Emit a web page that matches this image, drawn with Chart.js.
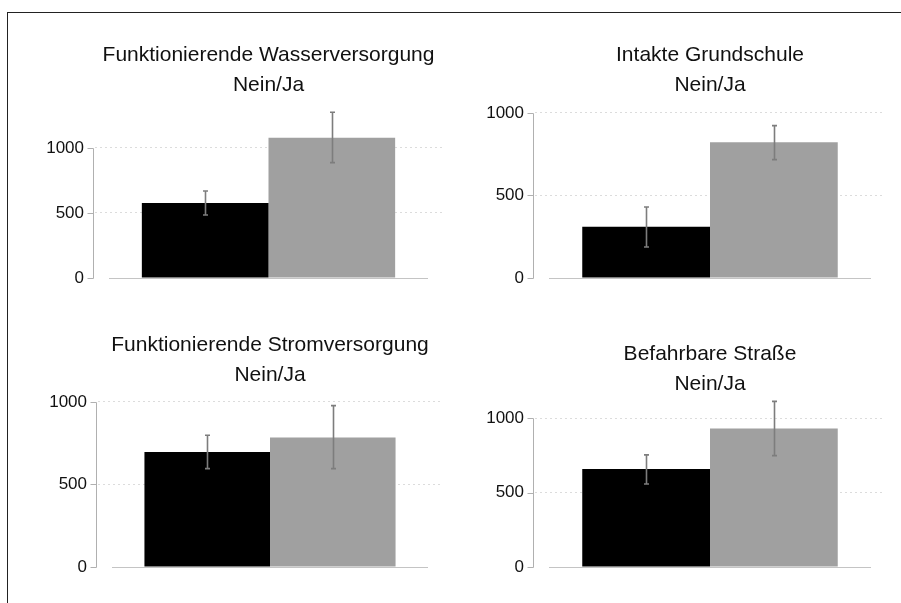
<!DOCTYPE html>
<html lang="de">
<head>
<meta charset="utf-8">
<title>Nein/Ja</title>
<script src="https://cdn.jsdelivr.net/npm/chart.js@4.4.1/dist/chart.umd.min.js"></script>
<style>
  html, body { margin: 0; padding: 0; background: #fff; }
  #stage { position: relative; width: 901px; height: 603px; overflow: hidden; background: #fff; }
  #frame { position: absolute; left: 7px; top: 12px; width: 1000px; height: 1000px;
           border-left: 1px solid #222; border-top: 1px solid #222; }
  canvas { position: absolute; }
</style>
</head>
<body>
<div id="stage">
  <div id="frame"></div>
  <canvas id="c0"></canvas>
  <canvas id="c1"></canvas>
  <canvas id="c2"></canvas>
  <canvas id="c3"></canvas>
</div>
<script>
// Panel titles and the shared subtitle
const panelTitles = [
  'Funktionierende Wasserversorgung',
  'Intakte Grundschule',
  'Funktionierende Stromversorgung',
  'Befahrbare Straße'
];
const subtitle = 'Nein/Ja';
const seriesNames = ['Nein', 'Ja'];

// Means per panel
const neinValues = [577, 311, 697, 659];
const jaValues   = [1079, 822, 785, 931];

// Error bar ends per panel
const neinLow  = [485, 188, 596, 558];
const neinHigh = [669, 430, 798, 754];
const jaLow    = [887, 717, 596, 749];
const jaHigh   = [1275, 923, 978, 1114];

// Value axis
const yTicks = [0, 500, 1000];
const yMax   = [1362, 1073, 1067, 1124];

// Canvas placement of each panel: [left, top, width, height]
const panelBoxes = [
  [42, 20, 420, 282],
  [482, 20, 423, 282],
  [45, 310, 417, 281],
  [482, 319, 423, 272]
];

const FONT = "'Liberation Sans', Arial, Helvetica, sans-serif";
const Y_AXIS_WIDTH = 53;

// Axis lines, baseline and error bars in the style of classic base graphics
const baseAxesPlugin = {
  id: 'baseAxes',
  afterDatasetsDraw(chart, args, opts) {
    const i = opts.panel;
    const { ctx, chartArea } = chart;
    const y = chart.scales.y;
    const lows = [neinLow[i], jaLow[i]];
    const highs = [neinHigh[i], jaHigh[i]];
    ctx.save();

    // error bars
    ctx.strokeStyle = '#7d7d7d';
    ctx.lineWidth = 1.6;
    chart.data.datasets.forEach((ds, d) => {
      const bar = chart.getDatasetMeta(d).data[0];
      const x = Math.round(bar.x) + 0.5;
      const y1 = y.getPixelForValue(lows[d]);
      const y2 = y.getPixelForValue(highs[d]);
      ctx.beginPath();
      ctx.moveTo(x, y1); ctx.lineTo(x, y2);
      ctx.moveTo(x - 2.5, y1); ctx.lineTo(x + 2.5, y1);
      ctx.moveTo(x - 2.5, y2); ctx.lineTo(x + 2.5, y2);
      ctx.stroke();
    });

    // baseline under the bars
    const y0 = Math.round(y.getPixelForValue(0)) + 0.5;
    ctx.lineWidth = 1;
    ctx.strokeStyle = '#c4c4c4';
    ctx.beginPath();
    ctx.moveTo(chartArea.left + 14, y0);
    ctx.lineTo(chartArea.right - 14, y0);
    ctx.stroke();

    // value axis line with tick marks
    const ax = Math.round(chartArea.left - 2) + 0.5;
    const yTop = Math.round(y.getPixelForValue(yTicks[yTicks.length - 1])) + 0.5;
    ctx.strokeStyle = '#b0b0b0';
    ctx.beginPath();
    ctx.moveTo(ax, y0);
    ctx.lineTo(ax, yTop);
    yTicks.forEach(v => {
      const ty = Math.round(y.getPixelForValue(v)) + 0.5;
      ctx.moveTo(ax - 6, ty);
      ctx.lineTo(ax, ty);
    });
    ctx.stroke();
    ctx.restore();
  }
};

panelTitles.forEach((title, i) => {
  const canvas = document.getElementById('c' + i);
  const [left, top, w, h] = panelBoxes[i];
  canvas.width = w;
  canvas.height = h;
  canvas.style.left = left + 'px';
  canvas.style.top = top + 'px';
  canvas.style.width = w + 'px';
  canvas.style.height = h + 'px';

  new Chart(canvas, {
    type: 'bar',
    data: {
      labels: [subtitle],
      datasets: [
        { label: seriesNames[0], data: [neinValues[i]], backgroundColor: '#000000' },
        { label: seriesNames[1], data: [jaValues[i]], backgroundColor: '#a0a0a0' }
      ]
    },
    options: {
      responsive: false,
      animation: false,
      devicePixelRatio: 1,
      layout: { padding: { top: 0, left: 0, right: 20, bottom: 24 } },
      datasets: { bar: { categoryPercentage: 0.73, barPercentage: 1, borderWidth: 0 } },
      plugins: {
        legend: { display: false },
        tooltip: { enabled: false },
        title: {
          display: true,
          fullSize: false,
          text: [title, subtitle],
          color: '#111',
          font: { family: FONT, size: 21, weight: 'normal', lineHeight: 1.45 },
          padding: { top: 20, bottom: 0 }
        },
        baseAxes: { panel: i }
      },
      scales: {
        x: { display: false },
        y: {
          min: 0,
          max: yMax[i],
          afterFit(scale) { scale.width = Y_AXIS_WIDTH; },
          afterBuildTicks(scale) { scale.ticks = yTicks.map(v => ({ value: v })); },
          ticks: {
            padding: 11,
            color: '#111',
            font: { family: FONT, size: 17 },
            callback: v => String(v)
          },
          grid: {
            drawTicks: false,
            lineWidth: 1,
            color: ctx => (ctx.tick && ctx.tick.value === 0) ? 'rgba(0,0,0,0)' : '#dcdcdc'
          },
          border: { display: false, dash: [2, 3] }
        }
      }
    },
    plugins: [baseAxesPlugin]
  });
});
</script>
</body>
</html>
